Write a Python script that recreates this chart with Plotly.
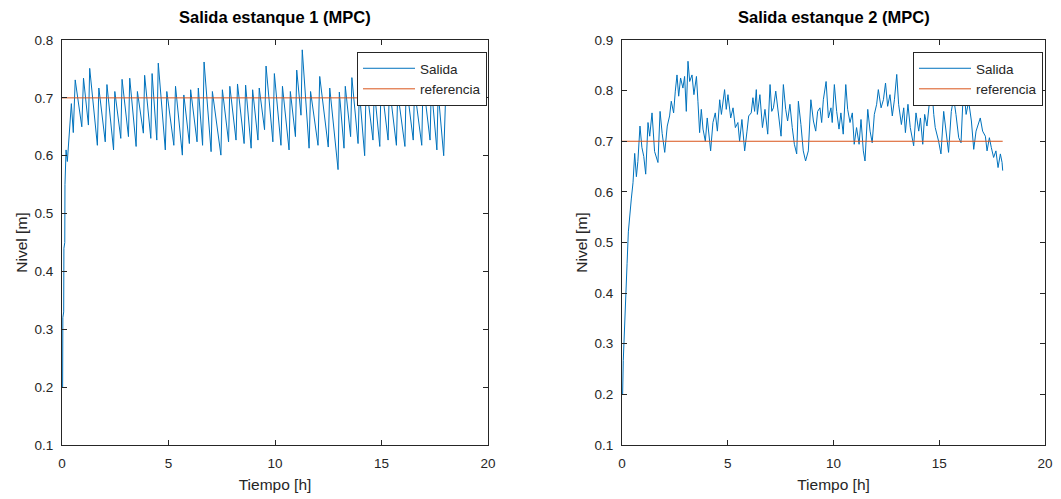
import plotly.graph_objects as go

# ---------------- data ----------------
# Tank 1 output (time in hours, level in m)
t1 = [0.00, 0.03, 0.04, 0.08, 0.09, 0.13, 0.14, 0.19, 0.25, 0.31, 0.38, 0.44, 0.53, 0.62,
      0.93, 1.01, 1.24, 1.30, 1.66, 1.73, 2.03, 2.11, 2.42, 2.48, 2.76, 2.82, 3.12, 3.18,
      3.48, 3.54, 3.82, 3.88, 4.17, 4.23, 4.45, 4.52, 4.85, 4.92, 5.25, 5.33, 5.65, 5.72,
      5.98, 6.04, 6.34, 6.40, 6.60, 6.67, 7.00, 7.06, 7.46, 7.53, 7.82, 7.88, 8.17, 8.24,
      8.55, 8.62, 8.88, 8.95, 9.20, 9.26, 9.51, 9.58, 9.90, 9.97, 10.28, 10.35, 10.66, 10.72,
      10.96, 11.02, 11.22, 11.28, 11.60, 11.67, 12.02, 12.10, 12.50, 12.57, 12.96, 13.02,
      13.24, 13.30, 13.55, 13.61, 13.90, 13.96, 14.21, 14.28, 14.60, 14.66, 14.92, 14.98,
      15.31, 15.37, 15.70, 15.76, 16.10, 16.16, 16.49, 16.55, 16.89, 16.95, 17.28, 17.34,
      17.60, 17.66, 17.92, 18.00]
y1 = [0.200, 0.200, 0.320, 0.330, 0.440, 0.450, 0.550, 0.610, 0.590, 0.620, 0.660, 0.690, 0.640, 0.731,
      0.650, 0.734, 0.653, 0.751, 0.618, 0.717, 0.624, 0.723, 0.610, 0.711, 0.630, 0.732, 0.633, 0.734,
      0.616, 0.711, 0.639, 0.739, 0.630, 0.742, 0.627, 0.760, 0.610, 0.711, 0.618, 0.720, 0.601, 0.705,
      0.621, 0.714, 0.624, 0.717, 0.618, 0.762, 0.607, 0.711, 0.601, 0.714, 0.624, 0.720, 0.627, 0.724,
      0.621, 0.722, 0.613, 0.714, 0.627, 0.717, 0.645, 0.755, 0.624, 0.742, 0.618, 0.720, 0.610, 0.711,
      0.633, 0.748, 0.670, 0.783, 0.613, 0.711, 0.618, 0.737, 0.615, 0.717, 0.576, 0.710,
      0.613, 0.720, 0.633, 0.735, 0.621, 0.712, 0.600, 0.725, 0.627, 0.715, 0.616, 0.730,
      0.627, 0.720, 0.618, 0.710, 0.616, 0.725, 0.627, 0.715, 0.618, 0.730, 0.627, 0.720,
      0.610, 0.710, 0.600, 0.690]

# Tank 2 output
t2 = [0.00, 0.03, 0.06, 0.11, 0.17, 0.24, 0.30, 0.36, 0.44, 0.52, 0.60, 0.68, 0.75, 0.85,
      0.94, 1.03, 1.12, 1.23, 1.31, 1.42, 1.54, 1.70, 1.80, 1.90, 2.02, 2.14, 2.25, 2.33,
      2.44, 2.52, 2.60, 2.68, 2.77, 2.88, 2.96, 3.04, 3.12, 3.20, 3.31, 3.40, 3.52, 3.59,
      3.67, 3.75, 3.83, 3.94, 4.03, 4.19, 4.30, 4.41, 4.51, 4.62, 4.70, 4.85, 4.93, 5.01,
      5.14, 5.25, 5.36, 5.48, 5.56, 5.67, 5.80, 5.91, 5.99, 6.11, 6.19, 6.27, 6.35, 6.40,
      6.52, 6.64, 6.76, 6.89, 7.00, 7.08, 7.16, 7.27, 7.39, 7.52, 7.63, 7.74, 7.83, 7.94,
      8.05, 8.15, 8.26, 8.34, 8.46, 8.57, 8.68, 8.81, 8.93, 9.05, 9.16, 9.25, 9.36, 9.44,
      9.52, 9.65, 9.76, 9.88, 9.94, 10.04, 10.15, 10.26, 10.35, 10.46, 10.58, 10.67, 10.78,
      10.89, 10.98, 11.09, 11.21, 11.30, 11.41, 11.49, 11.62, 11.73, 11.83, 11.93, 12.04,
      12.12, 12.25, 12.36, 12.46, 12.56, 12.67, 12.78, 12.88, 12.99, 13.08, 13.21, 13.32,
      13.40, 13.52, 13.63, 13.79, 13.90, 14.03, 14.11, 14.22, 14.31, 14.42, 14.53, 14.63,
      14.74, 14.81, 14.97, 15.08, 15.21, 15.32, 15.44, 15.57, 15.68, 15.79, 15.92, 16.03,
      16.15, 16.27, 16.39, 16.52, 16.63, 16.74, 16.83, 16.94, 17.05, 17.18, 17.26, 17.37,
      17.46, 17.57, 17.68, 17.78, 17.89, 17.97, 18.00]
y2 = [0.200, 0.200, 0.267, 0.331, 0.397, 0.459, 0.521, 0.554, 0.586, 0.618, 0.676, 0.630, 0.660, 0.730,
      0.688, 0.670, 0.635, 0.737, 0.710, 0.756, 0.680, 0.658, 0.759, 0.715, 0.678, 0.730, 0.750, 0.779,
      0.756, 0.799, 0.831, 0.789, 0.825, 0.805, 0.828, 0.759, 0.858, 0.818, 0.831, 0.792, 0.828, 0.779,
      0.717, 0.763, 0.724, 0.700, 0.746, 0.681, 0.737, 0.756, 0.720, 0.782, 0.753, 0.802, 0.763, 0.792,
      0.746, 0.766, 0.727, 0.737, 0.700, 0.743, 0.681, 0.720, 0.750, 0.756, 0.786, 0.759, 0.802, 0.753,
      0.792, 0.727, 0.763, 0.714, 0.812, 0.759, 0.766, 0.799, 0.753, 0.710, 0.812, 0.763, 0.740, 0.773,
      0.727, 0.694, 0.675, 0.779, 0.733, 0.681, 0.661, 0.681, 0.782, 0.740, 0.720, 0.759, 0.766, 0.737,
      0.782, 0.818, 0.746, 0.766, 0.737, 0.812, 0.759, 0.724, 0.756, 0.714, 0.812, 0.763, 0.737,
      0.756, 0.694, 0.727, 0.694, 0.743, 0.681, 0.661, 0.763, 0.720, 0.697, 0.753, 0.773,
      0.802, 0.766, 0.782, 0.815, 0.769, 0.792, 0.750, 0.782, 0.832, 0.773, 0.733, 0.766,
      0.717, 0.773, 0.727, 0.691, 0.756, 0.720, 0.746, 0.694, 0.753, 0.730, 0.773, 0.815,
      0.753, 0.727, 0.700, 0.675, 0.759, 0.714, 0.678, 0.759, 0.786, 0.753, 0.707, 0.697,
      0.810, 0.753, 0.779, 0.740, 0.684, 0.720, 0.733, 0.746, 0.720, 0.710, 0.681, 0.707,
      0.688, 0.668, 0.681, 0.648, 0.675, 0.658, 0.642]

ref_t = [0, 18]
ref_y = [0.7, 0.7]

titles = ["Salida estanque 1 (MPC)", "Salida estanque 2 (MPC)"]
x_label = "Tiempo [h]"
y_label = "Nivel [m]"
legend_names = ["Salida", "referencia"]

# ---------------- figure ----------------
BLUE = "#0072BD"
ORANGE = "#D95319"
AX = "#262626"
FONT = "Liberation Sans, Arial, Helvetica, sans-serif"

fig = go.Figure()
fig.add_trace(go.Scatter(x=t1, y=y1, mode="lines", name=legend_names[0],
                         line=dict(color=BLUE, width=1), xaxis="x", yaxis="y", legend="legend"))
fig.add_trace(go.Scatter(x=ref_t, y=ref_y, mode="lines", name=legend_names[1],
                         line=dict(color=ORANGE, width=1), xaxis="x", yaxis="y", legend="legend"))
fig.add_trace(go.Scatter(x=t2, y=y2, mode="lines", name=legend_names[0],
                         line=dict(color=BLUE, width=1), xaxis="x2", yaxis="y2", legend="legend2"))
fig.add_trace(go.Scatter(x=ref_t, y=ref_y, mode="lines", name=legend_names[1],
                         line=dict(color=ORANGE, width=1), xaxis="x2", yaxis="y2", legend="legend2"))

W, H = 1061, 499
ML, MR, MT, MB = 62, 16, 40, 54
PW = W - ML - MR
PH = H - MT - MB

def px_x(p):
    return (p - ML) / PW

def px_y(p):
    return 1 - (p - MT) / PH

xdom1 = [0.0, px_x(488)]
xdom2 = [px_x(622), 1.0]

common_axis = dict(showline=True, linecolor=AX, linewidth=1, mirror="ticks",
                   ticks="inside", ticklen=5, tickcolor=AX, showgrid=False, zeroline=False,
                   automargin=False,
                   tickfont=dict(family=FONT, size=13.5, color=AX))

xcommon = dict(common_axis, range=[0, 20], tick0=0, dtick=5, ticklabelstandoff=6,
               title=dict(text=x_label, font=dict(family=FONT, size=15.5, color=AX), standoff=8))
ycommon = dict(common_axis, dtick=0.1, tickformat=".1f", ticklabelstandoff=5,
               title=dict(text=y_label, font=dict(family=FONT, size=15.5, color=AX), standoff=3))

legend_common = dict(bgcolor="white", bordercolor=AX, borderwidth=1,
                     font=dict(family=FONT, size=13.5, color=AX),
                     xanchor="right", yanchor="top", y=px_y(52),
                     itemwidth=52, tracegroupgap=0)

fig.update_layout(
    width=W, height=H,
    margin=dict(l=ML, r=MR, t=MT, b=MB, autoexpand=False),
    paper_bgcolor="white", plot_bgcolor="white",
    font=dict(family=FONT, color=AX),
    xaxis=dict(xcommon, domain=xdom1, anchor="y"),
    yaxis=dict(ycommon, domain=[0, 1], range=[0.1, 0.8], anchor="x"),
    xaxis2=dict(xcommon, domain=xdom2, anchor="y2"),
    yaxis2=dict(ycommon, domain=[0, 1], range=[0.1, 0.9], anchor="x2"),
    legend=dict(legend_common, x=px_x(487)),
    legend2=dict(legend_common, x=px_x(1043)),
    annotations=[
        dict(text="<b>%s</b>" % titles[0], x=(xdom1[0] + xdom1[1]) / 2, y=px_y(17),
             xref="paper", yref="paper", xanchor="center", yanchor="middle", showarrow=False,
             font=dict(family=FONT, size=16.5, color="black")),
        dict(text="<b>%s</b>" % titles[1], x=(xdom2[0] + xdom2[1]) / 2, y=px_y(17),
             xref="paper", yref="paper", xanchor="center", yanchor="middle", showarrow=False,
             font=dict(family=FONT, size=16.5, color="black")),
    ],
)

fig.write_html("out.html",
               config={"displayModeBar": False},
               post_script="document.body.style.margin='0px';document.body.style.padding='0px';")
